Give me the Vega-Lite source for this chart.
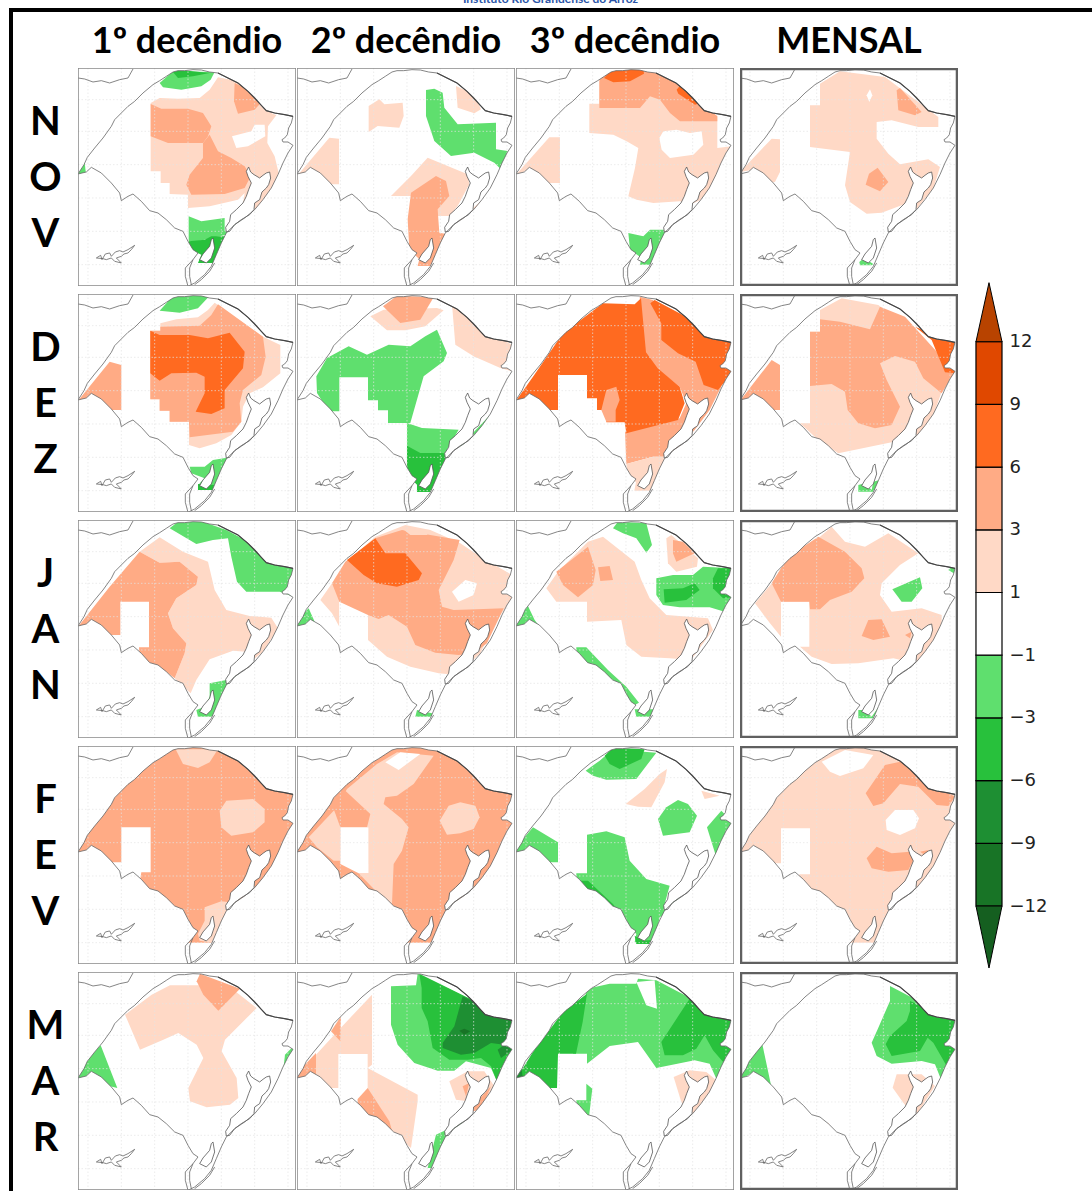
{"$schema":"https://vega.github.io/schema/vega-lite/v6.json","background":"white","padding":{"left":9,"top":0,"right":0,"bottom":0},"config":{"view":{"stroke":null},"axis":{"grid":false}},
"datasets":{
"letras":[{"mes":"NOV","letra":"N","ordem":0},{"mes":"NOV","letra":"O","ordem":1},{"mes":"NOV","letra":"V","ordem":2},{"mes":"DEZ","letra":"D","ordem":0},{"mes":"DEZ","letra":"E","ordem":1},{"mes":"DEZ","letra":"Z","ordem":2},{"mes":"JAN","letra":"J","ordem":0},{"mes":"JAN","letra":"A","ordem":1},{"mes":"JAN","letra":"N","ordem":2},{"mes":"FEV","letra":"F","ordem":0},{"mes":"FEV","letra":"E","ordem":1},{"mes":"FEV","letra":"V","ordem":2},{"mes":"MAR","letra":"M","ordem":0},{"mes":"MAR","letra":"A","ordem":1},{"mes":"MAR","letra":"R","ordem":2}],
"areas":[
{"mes":"NOV","dec":"1º decêndio","classe":"1 a 3","geo":{"type":"Polygon","coordinates":[[[218,105],[245,90],[300,92],[365,90],[395,65],[420,28],[480,40],[560,125],[595,142],[570,175],[568,225],[590,265],[602,315],[585,355],[550,405],[520,440],[490,440],[500,375],[480,395],[395,415],[330,420],[330,380],[275,378],[275,345],[248,345],[248,310],[218,310],[218,105]]]}},
{"mes":"NOV","dec":"1º decêndio","classe":"-1 a 1","geo":{"type":"Polygon","coordinates":[[[462,205],[520,190],[530,170],[560,170],[562,205],[510,235],[475,240],[462,205]]]}},
{"mes":"NOV","dec":"1º decêndio","classe":"3 a 6","geo":{"type":"Polygon","coordinates":[[[218,108],[250,122],[330,122],[375,135],[400,175],[390,205],[375,225],[330,225],[270,225],[218,205],[218,108]]]}},
{"mes":"NOV","dec":"1º decêndio","classe":"3 a 6","geo":{"type":"Polygon","coordinates":[[[375,225],[395,200],[420,250],[460,270],[500,295],[518,325],[500,360],[440,378],[340,380],[325,350],[335,320],[375,270],[375,225]]]}},
{"mes":"NOV","dec":"1º decêndio","classe":"3 a 6","geo":{"type":"Polygon","coordinates":[[[470,45],[500,60],[548,105],[530,125],[480,137],[468,100],[470,45]]]}},
{"mes":"NOV","dec":"1º decêndio","classe":"-3 a -1","geo":{"type":"Polygon","coordinates":[[[245,45],[285,10],[410,12],[398,35],[370,55],[310,65],[255,58],[245,45]]]}},
{"mes":"NOV","dec":"1º decêndio","classe":"-6 a -3","geo":{"type":"Polygon","coordinates":[[[285,12],[300,5],[395,15],[345,25],[300,30],[285,12]]]}},
{"mes":"NOV","dec":"1º decêndio","classe":"-3 a -1","geo":{"type":"Polygon","coordinates":[[[0,318],[0,290],[18,268],[24,318],[0,318]]]}},
{"mes":"NOV","dec":"1º decêndio","classe":"-3 a -1","geo":{"type":"Polygon","coordinates":[[[332,445],[370,460],[440,450],[440,490],[470,470],[520,440],[500,460],[445,500],[400,510],[360,520],[332,520],[332,445]]]}},
{"mes":"NOV","dec":"1º decêndio","classe":"-6 a -3","geo":{"type":"Polygon","coordinates":[[[332,520],[380,515],[400,505],[445,505],[425,545],[415,585],[360,585],[370,560],[345,548],[332,530],[332,520]]]}},

{"mes":"NOV","dec":"2º decêndio","classe":"1 a 3","geo":{"type":"Polygon","coordinates":[[[0,324],[97,209],[126,212],[126,349],[72,349],[42,314],[0,324]]]}},
{"mes":"NOV","dec":"2º decêndio","classe":"1 a 3","geo":{"type":"Polygon","coordinates":[[[215,114],[247,94],[262,109],[317,104],[320,144],[307,179],[242,174],[215,192],[215,114]]]}},
{"mes":"NOV","dec":"2º decêndio","classe":"1 a 3","geo":{"type":"Polygon","coordinates":[[[477,54],[532,79],[552,124],[532,136],[482,119],[477,54]]]}},
{"mes":"NOV","dec":"2º decêndio","classe":"-3 a -1","geo":{"type":"Polygon","coordinates":[[[387,66],[412,62],[437,74],[442,119],[482,169],[597,164],[597,244],[632,249],[617,309],[592,284],[532,254],[462,264],[412,219],[387,144],[387,66]]]}},
{"mes":"NOV","dec":"2º decêndio","classe":"1 a 3","geo":{"type":"Polygon","coordinates":[[[392,269],[512,319],[517,349],[482,414],[457,444],[422,444],[347,384],[282,384],[342,324],[392,269]]]}},
{"mes":"NOV","dec":"2º decêndio","classe":"1 a 3","geo":{"type":"Polygon","coordinates":[[[457,484],[552,399],[567,404],[462,504],[457,484]]]}},
{"mes":"NOV","dec":"2º decêndio","classe":"3 a 6","geo":{"type":"Polygon","coordinates":[[[417,324],[447,339],[457,384],[422,424],[427,494],[452,499],[442,524],[407,594],[362,594],[367,574],[337,544],[332,454],[342,374],[417,324]]]}},

{"mes":"NOV","dec":"3º decêndio","classe":"1 a 3","geo":{"type":"Polygon","coordinates":[[[220,107],[250,107],[250,40],[292,5],[392,5],[472,30],[604,145],[604,240],[647,235],[617,320],[567,390],[522,410],[492,400],[412,405],[362,395],[337,385],[357,300],[367,240],[332,220],[292,200],[220,195],[220,107]]]}},
{"mes":"NOV","dec":"3º decêndio","classe":"-1 a 1","geo":{"type":"Polygon","coordinates":[[[430,210],[442,190],[482,185],[522,195],[557,190],[562,230],[532,260],[462,270],[437,245],[430,210]]]}},
{"mes":"NOV","dec":"3º decêndio","classe":"1 a 3","geo":{"type":"Polygon","coordinates":[[[0,320],[100,208],[132,208],[132,345],[72,345],[37,305],[0,320]]]}},
{"mes":"NOV","dec":"3º decêndio","classe":"3 a 6","geo":{"type":"Polygon","coordinates":[[[250,120],[372,120],[402,85],[432,95],[462,135],[492,160],[604,160],[604,145],[462,25],[382,5],[282,5],[250,35],[250,120]]]}},
{"mes":"NOV","dec":"3º decêndio","classe":"6 a 9","geo":{"type":"Polygon","coordinates":[[[264,30],[292,43],[342,40],[384,17],[382,0],[292,0],[264,30]]]}},
{"mes":"NOV","dec":"3º decêndio","classe":"6 a 9","geo":{"type":"Polygon","coordinates":[[[482,65],[492,53],[552,105],[537,110],[487,77],[482,65]]]}},
{"mes":"NOV","dec":"3º decêndio","classe":"-3 a -1","geo":{"type":"Polygon","coordinates":[[[337,495],[382,505],[402,485],[442,485],[454,500],[467,500],[437,550],[417,590],[372,590],[377,570],[342,545],[337,495]]]}},

{"mes":"NOV","dec":"MENSAL","classe":"1 a 3","geo":{"type":"Polygon","coordinates":[[[210,112],[240,112],[240,47],[300,10],[435,27],[475,57],[595,147],[595,177],[535,177],[455,157],[410,162],[410,212],[445,257],[480,289],[565,274],[600,297],[580,362],[530,422],[485,412],[425,434],[380,437],[330,402],[315,352],[330,252],[210,237],[210,112]]]}},
{"mes":"NOV","dec":"MENSAL","classe":"-1 a 1","geo":{"type":"Polygon","coordinates":[[[390,64],[397,82],[388,102],[380,82],[390,64]]]}},
{"mes":"NOV","dec":"MENSAL","classe":"1 a 3","geo":{"type":"Polygon","coordinates":[[[0,312],[95,212],[120,214],[120,312],[105,342],[60,347],[30,307],[0,312]]]}},
{"mes":"NOV","dec":"MENSAL","classe":"3 a 6","geo":{"type":"Polygon","coordinates":[[[470,67],[480,60],[545,132],[525,142],[475,127],[470,67]]]}},
{"mes":"NOV","dec":"MENSAL","classe":"3 a 6","geo":{"type":"Polygon","coordinates":[[[413,299],[445,342],[420,370],[377,350],[387,317],[413,299]]]}},
{"mes":"NOV","dec":"MENSAL","classe":"-3 a -1","geo":{"type":"Polygon","coordinates":[[[358,582],[372,570],[400,588],[395,592],[360,592],[358,582]]]}},

{"mes":"DEZ","dec":"1º decêndio","classe":"1 a 3","geo":{"type":"Polygon","coordinates":[[[217,110],[247,110],[247,88],[295,76],[360,70],[390,48],[410,26],[555,128],[607,153],[607,238],[555,280],[515,298],[495,338],[490,383],[460,423],[415,448],[365,463],[333,453],[333,383],[275,383],[275,350],[245,350],[245,316],[217,316],[217,110]]]}},
{"mes":"DEZ","dec":"1º decêndio","classe":"3 a 6","geo":{"type":"Polygon","coordinates":[[[247,98],[365,95],[400,63],[420,31],[555,128],[563,188],[550,243],[495,288],[485,328],[490,383],[465,413],[335,430],[333,383],[275,383],[275,350],[245,350],[245,316],[217,316],[217,110],[247,110],[247,98]]]}},
{"mes":"DEZ","dec":"1º decêndio","classe":"6 a 9","geo":{"type":"Polygon","coordinates":[[[217,110],[245,123],[335,123],[390,133],[455,116],[500,173],[495,223],[440,288],[440,343],[400,360],[353,353],[380,298],[380,248],[355,236],[280,238],[245,260],[217,238],[217,110]]]}},
{"mes":"DEZ","dec":"1º decêndio","classe":"-3 a -1","geo":{"type":"Polygon","coordinates":[[[245,50],[285,5],[395,5],[360,43],[305,56],[245,50]]]}},
{"mes":"DEZ","dec":"1º decêndio","classe":"3 a 6","geo":{"type":"Polygon","coordinates":[[[0,320],[95,203],[130,213],[130,348],[95,348],[45,308],[0,320]]]}},
{"mes":"DEZ","dec":"1º decêndio","classe":"-3 a -1","geo":{"type":"Polygon","coordinates":[[[335,518],[380,518],[405,498],[465,488],[435,538],[415,588],[360,588],[365,568],[380,553],[340,538],[335,518]]]}},
{"mes":"DEZ","dec":"1º decêndio","classe":"-6 a -3","geo":{"type":"Polygon","coordinates":[[[360,570],[410,573],[410,588],[360,588],[360,570]]]}},

{"mes":"DEZ","dec":"2º decêndio","classe":"1 a 3","geo":{"type":"Polygon","coordinates":[[[220,67],[260,47],[420,42],[440,49],[385,97],[325,109],[270,109],[220,67]]]}},
{"mes":"DEZ","dec":"2º decêndio","classe":"3 a 6","geo":{"type":"Polygon","coordinates":[[[258,37],[300,5],[410,10],[370,77],[310,87],[258,37]]]}},
{"mes":"DEZ","dec":"2º decêndio","classe":"1 a 3","geo":{"type":"Polygon","coordinates":[[[465,30],[650,157],[645,232],[610,222],[530,187],[475,152],[465,30]]]}},
{"mes":"DEZ","dec":"2º decêndio","classe":"-3 a -1","geo":{"type":"Polygon","coordinates":[[[58,247],[90,192],[155,157],[210,182],[275,152],[340,157],[385,127],[420,107],[450,177],[440,202],[380,247],[340,387],[273,387],[273,349],[243,349],[243,319],[213,319],[213,250],[127,250],[127,352],[95,352],[60,297],[58,247]]]}},
{"mes":"DEZ","dec":"2º decêndio","classe":"-3 a -1","geo":{"type":"Polygon","coordinates":[[[330,387],[375,402],[485,407],[450,467],[470,477],[580,362],[583,372],[460,492],[420,490],[330,475],[330,387]]]}},
{"mes":"DEZ","dec":"2º decêndio","classe":"-6 a -3","geo":{"type":"Polygon","coordinates":[[[330,455],[370,477],[440,477],[450,507],[425,557],[410,594],[360,594],[360,572],[330,542],[330,455]]]}},

{"mes":"DEZ","dec":"3º decêndio","classe":"3 a 6","geo":{"type":"Polygon","coordinates":[[[371,8],[411,18],[616,278],[606,298],[581,348],[536,408],[461,488],[411,488],[331,510],[327,413],[491,373],[511,328],[491,278],[421,223],[386,178],[371,8]]]}},
{"mes":"DEZ","dec":"3º decêndio","classe":"1 a 3","geo":{"type":"Polygon","coordinates":[[[331,510],[411,488],[461,488],[435,530],[410,590],[355,590],[360,565],[335,540],[331,510]]]}},
{"mes":"DEZ","dec":"3º decêndio","classe":"6 a 9","geo":{"type":"Polygon","coordinates":[[[0,320],[51,248],[141,118],[261,28],[356,31],[375,13],[390,175],[425,223],[491,278],[506,328],[486,378],[331,418],[326,385],[271,385],[271,348],[243,348],[243,313],[213,313],[213,243],[126,243],[126,348],[91,348],[41,308],[0,320]]]}},
{"mes":"DEZ","dec":"3º decêndio","classe":"3 a 6","geo":{"type":"Polygon","coordinates":[[[256,348],[271,288],[301,278],[311,318],[299,348],[299,383],[271,383],[256,348]]]}},
{"mes":"DEZ","dec":"3º decêndio","classe":"6 a 9","geo":{"type":"Polygon","coordinates":[[[403,28],[416,18],[651,143],[651,233],[606,288],[563,273],[539,203],[486,178],[436,138],[436,88],[403,28]]]}},

{"mes":"DEZ","dec":"MENSAL","classe":"1 a 3","geo":{"type":"Polygon","coordinates":[[[180,388],[210,388],[210,113],[240,113],[240,48],[305,13],[415,33],[575,168],[605,293],[575,378],[530,428],[455,445],[295,478],[235,438],[180,388]]]}},
{"mes":"DEZ","dec":"MENSAL","classe":"3 a 6","geo":{"type":"Polygon","coordinates":[[[210,113],[240,113],[240,76],[300,83],[390,106],[420,38],[495,68],[645,233],[605,298],[550,253],[525,203],[465,186],[420,208],[440,258],[480,338],[455,393],[405,403],[355,388],[323,348],[315,293],[275,270],[210,276],[210,113]]]}},
{"mes":"DEZ","dec":"MENSAL","classe":"6 a 9","geo":{"type":"Polygon","coordinates":[[[525,98],[650,148],[650,238],[615,235],[575,138],[525,98]]]}},
{"mes":"DEZ","dec":"MENSAL","classe":"3 a 6","geo":{"type":"Polygon","coordinates":[[[0,320],[95,198],[120,213],[120,348],[90,348],[40,308],[0,320]]]}},
{"mes":"DEZ","dec":"MENSAL","classe":"-3 a -1","geo":{"type":"Polygon","coordinates":[[[355,573],[375,568],[395,588],[400,563],[418,558],[405,593],[355,593],[355,573]]]}},

{"mes":"JAN","dec":"1º decêndio","classe":"1 a 3","geo":{"type":"Polygon","coordinates":[[[185,95],[245,52],[315,95],[390,125],[410,210],[445,270],[515,288],[580,293],[600,325],[555,395],[525,420],[505,395],[465,392],[395,418],[355,480],[338,520],[290,475],[320,400],[325,370],[285,325],[270,280],[295,235],[355,195],[360,170],[305,125],[245,128],[185,95]]]}},
{"mes":"JAN","dec":"1º decêndio","classe":"-3 a -1","geo":{"type":"Polygon","coordinates":[[[275,25],[300,5],[375,5],[445,30],[650,140],[650,232],[605,215],[505,215],[477,185],[460,110],[450,55],[405,60],[355,72],[275,25]]]}},
{"mes":"JAN","dec":"1º decêndio","classe":"3 a 6","geo":{"type":"Polygon","coordinates":[[[0,320],[95,200],[185,95],[245,128],[305,125],[360,170],[355,195],[295,235],[270,280],[285,325],[325,370],[320,400],[290,475],[245,440],[185,415],[183,382],[213,382],[213,245],[127,245],[127,345],[95,345],[45,310],[0,320]]]}},
{"mes":"JAN","dec":"1º decêndio","classe":"-3 a -1","geo":{"type":"Polygon","coordinates":[[[395,490],[445,480],[515,448],[470,488],[440,505],[420,550],[410,590],[360,590],[355,570],[380,560],[395,530],[395,490]]]}},

{"mes":"JAN","dec":"2º decêndio","classe":"1 a 3","geo":{"type":"Polygon","coordinates":[[[70,240],[105,190],[155,120],[235,50],[325,15],[400,30],[490,70],[550,110],[645,165],[645,235],[600,300],[550,400],[480,465],[425,460],[340,440],[270,410],[213,360],[213,290],[127,245],[127,320],[105,280],[70,240]]]}},
{"mes":"JAN","dec":"2º decêndio","classe":"-1 a 1","geo":{"type":"Polygon","coordinates":[[[127,245],[213,245],[213,372],[127,372],[127,245]]]}},
{"mes":"JAN","dec":"2º decêndio","classe":"3 a 6","geo":{"type":"Polygon","coordinates":[[[105,190],[145,125],[235,55],[315,30],[400,45],[488,60],[470,120],[425,210],[435,260],[470,270],[540,268],[620,265],[570,370],[530,400],[485,405],[415,398],[355,375],[330,320],[275,285],[245,297],[213,285],[127,245],[105,190]]]}},
{"mes":"JAN","dec":"2º decêndio","classe":"1 a 3","geo":{"type":"Polygon","coordinates":[[[315,25],[400,30],[390,45],[340,45],[315,25]]]}},
{"mes":"JAN","dec":"2º decêndio","classe":"-1 a 1","geo":{"type":"Polygon","coordinates":[[[465,215],[505,180],[540,190],[530,225],[485,245],[465,215]]]}},
{"mes":"JAN","dec":"2º decêndio","classe":"6 a 9","geo":{"type":"Polygon","coordinates":[[[150,120],[235,55],[265,100],[325,100],[375,160],[365,180],[300,200],[240,190],[200,165],[150,120]]]}},
{"mes":"JAN","dec":"2º decêndio","classe":"-3 a -1","geo":{"type":"Polygon","coordinates":[[[0,322],[0,300],[35,265],[55,310],[30,322],[0,322]]]}},
{"mes":"JAN","dec":"2º decêndio","classe":"-3 a -1","geo":{"type":"Polygon","coordinates":[[[360,570],[405,580],[410,590],[355,590],[360,570]]]}},

{"mes":"JAN","dec":"3º decêndio","classe":"1 a 3","geo":{"type":"Polygon","coordinates":[[[91,205],[126,155],[216,65],[261,50],[356,125],[376,180],[401,235],[451,285],[576,295],[591,330],[525,420],[461,415],[376,410],[331,375],[316,300],[213,305],[213,245],[121,245],[91,205]]]}},
{"mes":"JAN","dec":"3º decêndio","classe":"3 a 6","geo":{"type":"Polygon","coordinates":[[[121,155],[216,80],[239,150],[231,195],[186,232],[141,195],[121,155]]]}},
{"mes":"JAN","dec":"3º decêndio","classe":"3 a 6","geo":{"type":"Polygon","coordinates":[[[246,142],[281,138],[291,180],[253,183],[246,142]]]}},
{"mes":"JAN","dec":"3º decêndio","classe":"1 a 3","geo":{"type":"Polygon","coordinates":[[[451,55],[466,45],[546,115],[543,140],[481,155],[456,130],[451,55]]]}},
{"mes":"JAN","dec":"3º decêndio","classe":"3 a 6","geo":{"type":"Polygon","coordinates":[[[471,60],[501,65],[536,100],[481,125],[471,100],[471,60]]]}},
{"mes":"JAN","dec":"3º decêndio","classe":"-3 a -1","geo":{"type":"Polygon","coordinates":[[[291,25],[306,5],[391,10],[408,75],[391,98],[361,55],[321,40],[291,25]]]}},
{"mes":"JAN","dec":"3º decêndio","classe":"-3 a -1","geo":{"type":"Polygon","coordinates":[[[421,175],[471,165],[531,165],[561,140],[651,145],[651,225],[626,275],[581,262],[491,262],[441,255],[421,225],[421,175]]]}},
{"mes":"JAN","dec":"3º decêndio","classe":"-6 a -3","geo":{"type":"Polygon","coordinates":[[[443,208],[501,205],[536,190],[551,210],[511,240],[446,248],[443,208]]]}},
{"mes":"JAN","dec":"3º decêndio","classe":"-6 a -3","geo":{"type":"Polygon","coordinates":[[[591,175],[606,145],[651,145],[651,232],[621,235],[591,205],[591,175]]]}},
{"mes":"JAN","dec":"3º decêndio","classe":"-3 a -1","geo":{"type":"Polygon","coordinates":[[[0,322],[0,300],[36,258],[56,300],[95,352],[56,322],[0,322]]]}},
{"mes":"JAN","dec":"3º decêndio","classe":"-3 a -1","geo":{"type":"Polygon","coordinates":[[[181,382],[211,382],[276,450],[331,500],[369,548],[356,555],[321,530],[291,480],[231,440],[181,410],[181,382]]]}},
{"mes":"JAN","dec":"3º decêndio","classe":"-3 a -1","geo":{"type":"Polygon","coordinates":[[[356,568],[416,568],[406,590],[361,590],[356,568]]]}},

{"mes":"JAN","dec":"MENSAL","classe":"1 a 3","geo":{"type":"Polygon","coordinates":[[[45,250],[95,190],[145,110],[240,50],[275,20],[315,65],[375,80],[445,40],[535,100],[480,135],[425,190],[420,225],[455,275],[545,265],[605,285],[605,330],[555,410],[525,430],[460,415],[355,430],[275,432],[215,410],[180,380],[208,380],[208,245],[123,245],[123,350],[90,310],[45,250]]]}},
{"mes":"JAN","dec":"MENSAL","classe":"3 a 6","geo":{"type":"Polygon","coordinates":[[[95,190],[145,110],[235,50],[315,95],[365,145],[373,175],[335,215],[270,240],[240,268],[210,268],[208,245],[123,245],[95,190]]]}},
{"mes":"JAN","dec":"MENSAL","classe":"3 a 6","geo":{"type":"Polygon","coordinates":[[[385,300],[425,298],[450,350],[400,360],[365,348],[385,300]]]}},
{"mes":"JAN","dec":"MENSAL","classe":"3 a 6","geo":{"type":"Polygon","coordinates":[[[495,345],[515,335],[510,355],[495,345]]]}},
{"mes":"JAN","dec":"MENSAL","classe":"-3 a -1","geo":{"type":"Polygon","coordinates":[[[457,208],[540,172],[547,205],[515,245],[485,245],[457,208]]]}},
{"mes":"JAN","dec":"MENSAL","classe":"-3 a -1","geo":{"type":"Polygon","coordinates":[[[625,150],[640,135],[650,150],[645,162],[625,150]]]}},
{"mes":"JAN","dec":"MENSAL","classe":"-3 a -1","geo":{"type":"Polygon","coordinates":[[[355,570],[375,570],[395,590],[420,555],[410,595],[355,595],[355,570]]]}},

{"mes":"FEV","dec":"1º decêndio","classe":"3 a 6","geo":{"type":"Polygon","coordinates":[[[0,0],[654,0],[654,590],[0,590],[0,0]]]}},
{"mes":"FEV","dec":"1º decêndio","classe":"-1 a 1","geo":{"type":"Polygon","coordinates":[[[130,244],[218,244],[218,379],[190,379],[185,410],[100,410],[100,349],[130,349],[130,244]]]}},
{"mes":"FEV","dec":"1º decêndio","classe":"1 a 3","geo":{"type":"Polygon","coordinates":[[[293,10],[420,10],[395,49],[360,66],[315,54],[293,10]]]}},
{"mes":"FEV","dec":"1º decêndio","classe":"1 a 3","geo":{"type":"Polygon","coordinates":[[[425,194],[445,164],[525,159],[560,189],[560,229],[525,259],[460,269],[430,244],[425,194]]]}},
{"mes":"FEV","dec":"1º decêndio","classe":"1 a 3","geo":{"type":"Polygon","coordinates":[[[380,484],[430,466],[470,470],[425,594],[365,584],[360,564],[380,524],[380,484]]]}},

{"mes":"FEV","dec":"2º decêndio","classe":"3 a 6","geo":{"type":"Polygon","coordinates":[[[0,0],[654,0],[654,590],[0,590],[0,0]]]}},
{"mes":"FEV","dec":"2º decêndio","classe":"1 a 3","geo":{"type":"Polygon","coordinates":[[[35,274],[115,189],[150,129],[240,54],[300,19],[410,29],[350,114],[300,149],[265,154],[260,174],[315,219],[335,244],[315,314],[290,354],[285,474],[240,439],[185,382],[215,382],[215,244],[130,244],[130,344],[110,344],[60,304],[35,274]]]}},
{"mes":"FEV","dec":"2º decêndio","classe":"3 a 6","geo":{"type":"Polygon","coordinates":[[[110,189],[145,134],[220,204],[210,244],[130,244],[110,189]]]}},
{"mes":"FEV","dec":"2º decêndio","classe":"-1 a 1","geo":{"type":"Polygon","coordinates":[[[130,244],[215,244],[215,382],[185,382],[130,354],[130,244]]]}},
{"mes":"FEV","dec":"2º decêndio","classe":"-1 a 1","geo":{"type":"Polygon","coordinates":[[[265,49],[310,19],[370,24],[305,72],[265,49]]]}},
{"mes":"FEV","dec":"2º decêndio","classe":"1 a 3","geo":{"type":"Polygon","coordinates":[[[428,224],[455,179],[490,169],[535,179],[548,214],[530,249],[490,262],[450,266],[428,224]]]}},

{"mes":"FEV","dec":"3º decêndio","classe":"-3 a -1","geo":{"type":"Polygon","coordinates":[[[209,74],[251,44],[291,10],[421,20],[361,99],[271,101],[231,89],[209,74]]]}},
{"mes":"FEV","dec":"3º decêndio","classe":"-6 a -3","geo":{"type":"Polygon","coordinates":[[[266,29],[291,5],[386,10],[376,39],[311,69],[281,54],[266,29]]]}},
{"mes":"FEV","dec":"3º decêndio","classe":"1 a 3","geo":{"type":"Polygon","coordinates":[[[329,174],[386,129],[431,84],[453,69],[446,109],[406,184],[366,182],[329,174]]]}},
{"mes":"FEV","dec":"3º decêndio","classe":"1 a 3","geo":{"type":"Polygon","coordinates":[[[556,134],[611,149],[566,159],[556,134]]]}},
{"mes":"FEV","dec":"3º decêndio","classe":"-3 a -1","geo":{"type":"Polygon","coordinates":[[[426,219],[451,184],[486,162],[516,174],[543,209],[521,259],[441,269],[426,219]]]}},
{"mes":"FEV","dec":"3º decêndio","classe":"-3 a -1","geo":{"type":"Polygon","coordinates":[[[573,244],[616,194],[651,229],[601,334],[573,244]]]}},
{"mes":"FEV","dec":"3º decêndio","classe":"-3 a -1","geo":{"type":"Polygon","coordinates":[[[0,324],[0,304],[51,244],[126,289],[126,349],[91,349],[41,314],[0,324]]]}},
{"mes":"FEV","dec":"3º decêndio","classe":"-3 a -1","geo":{"type":"Polygon","coordinates":[[[213,266],[271,256],[326,274],[341,344],[391,399],[461,419],[446,474],[521,444],[461,494],[431,514],[416,589],[356,589],[361,564],[331,534],[291,484],[231,444],[181,414],[181,382],[213,382],[213,266]]]}},
{"mes":"FEV","dec":"3º decêndio","classe":"-6 a -3","geo":{"type":"Polygon","coordinates":[[[181,404],[216,404],[291,474],[336,534],[331,549],[291,514],[231,449],[181,404]]]}},
{"mes":"FEV","dec":"3º decêndio","classe":"-6 a -3","geo":{"type":"Polygon","coordinates":[[[356,569],[381,584],[406,582],[401,594],[361,594],[356,569]]]}},

{"mes":"FEV","dec":"MENSAL","classe":"1 a 3","geo":{"type":"Polygon","coordinates":[[[0,0],[654,0],[654,590],[0,590],[0,0]]]}},
{"mes":"FEV","dec":"MENSAL","classe":"-1 a 1","geo":{"type":"Polygon","coordinates":[[[245,47],[315,12],[400,27],[370,67],[300,90],[270,77],[245,47]]]}},
{"mes":"FEV","dec":"MENSAL","classe":"-1 a 1","geo":{"type":"Polygon","coordinates":[[[123,247],[210,247],[210,385],[180,385],[145,402],[100,402],[100,352],[123,352],[123,247]]]}},
{"mes":"FEV","dec":"MENSAL","classe":"-1 a 1","geo":{"type":"Polygon","coordinates":[[[437,222],[465,192],[520,192],[537,217],[525,247],[480,267],[440,252],[437,222]]]}},
{"mes":"FEV","dec":"MENSAL","classe":"3 a 6","geo":{"type":"Polygon","coordinates":[[[377,142],[435,57],[505,42],[565,112],[645,152],[625,180],[590,177],[535,122],[480,114],[430,172],[400,180],[377,142]]]}},
{"mes":"FEV","dec":"MENSAL","classe":"3 a 6","geo":{"type":"Polygon","coordinates":[[[380,337],[410,302],[455,322],[510,317],[520,342],[505,372],[445,377],[395,367],[380,337]]]}},
{"mes":"FEV","dec":"MENSAL","classe":"3 a 6","geo":{"type":"Polygon","coordinates":[[[540,317],[565,312],[555,327],[540,317]]]}},

{"mes":"MAR","dec":"1º decêndio","classe":"1 a 3","geo":{"type":"Polygon","coordinates":[[[141,128],[221,68],[276,40],[366,40],[466,53],[536,108],[441,203],[431,238],[476,318],[481,378],[456,398],[386,406],[336,388],[331,348],[376,258],[356,218],[301,183],[256,203],[186,233],[141,128]]]}},
{"mes":"MAR","dec":"1º decêndio","classe":"3 a 6","geo":{"type":"Polygon","coordinates":[[[356,28],[366,5],[486,50],[421,116],[376,68],[356,28]]]}},
{"mes":"MAR","dec":"1º decêndio","classe":"-3 a -1","geo":{"type":"Polygon","coordinates":[[[0,323],[0,293],[68,220],[118,348],[96,343],[46,303],[0,323]]]}},
{"mes":"MAR","dec":"1º decêndio","classe":"-3 a -1","geo":{"type":"Polygon","coordinates":[[[616,293],[621,248],[646,223],[650,238],[616,293]]]}},

{"mes":"MAR","dec":"2º decêndio","classe":"1 a 3","geo":{"type":"Polygon","coordinates":[[[2,308],[112,188],[225,68],[225,278],[212,288],[362,368],[362,388],[342,528],[282,478],[182,408],[182,381],[212,381],[212,246],[124,246],[124,348],[87,348],[57,318],[2,308]]]}},
{"mes":"MAR","dec":"2º decêndio","classe":"3 a 6","geo":{"type":"Polygon","coordinates":[[[0,318],[0,303],[57,243],[57,308],[22,323],[0,318]]]}},
{"mes":"MAR","dec":"2º decêndio","classe":"3 a 6","geo":{"type":"Polygon","coordinates":[[[102,178],[132,133],[130,208],[102,178]]]}},
{"mes":"MAR","dec":"2º decêndio","classe":"3 a 6","geo":{"type":"Polygon","coordinates":[[[182,381],[212,348],[277,448],[287,483],[222,438],[182,408],[182,381]]]}},
{"mes":"MAR","dec":"2º decêndio","classe":"-3 a -1","geo":{"type":"Polygon","coordinates":[[[282,43],[357,40],[362,5],[652,146],[652,248],[602,333],[582,288],[507,268],[472,296],[422,296],[352,273],[302,218],[282,158],[282,43]]]}},
{"mes":"MAR","dec":"2º decêndio","classe":"-6 a -3","geo":{"type":"Polygon","coordinates":[[[374,48],[367,5],[652,146],[652,248],[602,333],[582,283],[552,258],[512,263],[457,263],[407,228],[392,148],[374,108],[374,48]]]}},
{"mes":"MAR","dec":"2º decêndio","classe":"-9 a -6","geo":{"type":"Polygon","coordinates":[[[497,73],[652,146],[652,213],[622,218],[582,213],[532,243],[492,248],[437,228],[437,213],[472,163],[497,73]]]}},
{"mes":"MAR","dec":"2º decêndio","classe":"-12 a -9","geo":{"type":"Polygon","coordinates":[[[487,176],[502,170],[520,178],[502,188],[487,176]]]}},
{"mes":"MAR","dec":"2º decêndio","classe":"-9 a -6","geo":{"type":"Polygon","coordinates":[[[602,233],[622,218],[647,233],[612,258],[602,233]]]}},
{"mes":"MAR","dec":"2º decêndio","classe":"1 a 3","geo":{"type":"Polygon","coordinates":[[[457,328],[512,298],[562,298],[592,343],[552,408],[527,408],[512,388],[477,383],[457,328]]]}},
{"mes":"MAR","dec":"2º decêndio","classe":"3 a 6","geo":{"type":"Polygon","coordinates":[[[497,343],[517,333],[507,373],[497,343]]]}},
{"mes":"MAR","dec":"2º decêndio","classe":"3 a 6","geo":{"type":"Polygon","coordinates":[[[532,398],[582,343],[552,413],[527,418],[532,398]]]}},
{"mes":"MAR","dec":"2º decêndio","classe":"-3 a -1","geo":{"type":"Polygon","coordinates":[[[417,488],[502,448],[462,488],[442,518],[412,588],[392,588],[407,528],[417,488]]]}},

{"mes":"MAR","dec":"3º decêndio","classe":"-3 a -1","geo":{"type":"Polygon","coordinates":[[[213,50],[281,35],[361,35],[366,20],[421,25],[651,145],[651,225],[601,320],[581,275],[536,265],[421,288],[391,245],[366,210],[281,222],[213,275],[213,245],[171,245],[213,50]]]}},
{"mes":"MAR","dec":"3º decêndio","classe":"-1 a 1","geo":{"type":"Polygon","coordinates":[[[361,30],[416,25],[423,110],[391,100],[361,30]]]}},
{"mes":"MAR","dec":"3º decêndio","classe":"-6 a -3","geo":{"type":"Polygon","coordinates":[[[0,322],[51,240],[141,120],[213,65],[200,150],[180,245],[126,245],[123,348],[91,348],[41,310],[0,322]]]}},
{"mes":"MAR","dec":"3º decêndio","classe":"-9 a -6","geo":{"type":"Polygon","coordinates":[[[0,322],[0,300],[16,285],[21,320],[0,322]]]}},
{"mes":"MAR","dec":"3º decêndio","classe":"-6 a -3","geo":{"type":"Polygon","coordinates":[[[436,210],[521,80],[651,145],[651,225],[626,275],[591,235],[566,190],[541,230],[501,250],[446,250],[436,210]]]}},
{"mes":"MAR","dec":"3º decêndio","classe":"-3 a -1","geo":{"type":"Polygon","coordinates":[[[181,385],[211,385],[211,335],[229,350],[219,435],[181,415],[181,385]]]}},
{"mes":"MAR","dec":"3º decêndio","classe":"1 a 3","geo":{"type":"Polygon","coordinates":[[[473,315],[521,295],[571,300],[601,325],[541,440],[521,420],[496,390],[473,315]]]}},

{"mes":"MAR","dec":"MENSAL","classe":"-3 a -1","geo":{"type":"Polygon","coordinates":[[[450,42],[650,147],[650,222],[605,327],[585,277],[545,267],[455,275],[410,252],[395,212],[415,167],[450,87],[450,42]]]}},
{"mes":"MAR","dec":"MENSAL","classe":"-6 a -3","geo":{"type":"Polygon","coordinates":[[[510,87],[650,147],[650,222],[620,282],[580,212],[563,197],[540,237],[455,252],[437,217],[450,192],[500,147],[510,117],[510,87]]]}},
{"mes":"MAR","dec":"MENSAL","classe":"-3 a -1","geo":{"type":"Polygon","coordinates":[[[0,322],[0,297],[67,217],[95,349],[55,327],[30,307],[0,322]]]}},
{"mes":"MAR","dec":"MENSAL","classe":"1 a 3","geo":{"type":"Polygon","coordinates":[[[458,347],[470,307],[545,307],[585,342],[525,437],[505,410],[490,392],[458,347]]]}},
{"mes":"MAR","dec":"MENSAL","classe":"1 a 3","geo":{"type":"Polygon","coordinates":[[[245,457],[265,452],[275,472],[255,477],[245,457]]]}}
],
"mascara":[{"nome":"fora do estado","geo":{"type":"Polygon","coordinates":[[[0,0],[0,654],[654,654],[654,0],[0,0]],[[0,318],[18,290],[28,268],[50,240],[75,210],[100,175],[110,155],[130,135],[150,115],[170,100],[195,75],[225,50],[245,38],[265,25],[285,12],[300,8],[320,8],[345,5],[370,6],[395,12],[420,15],[450,30],[480,45],[510,70],[530,90],[550,112],[565,128],[590,135],[620,140],[645,145],[640,165],[632,180],[628,200],[620,210],[612,215],[615,222],[630,222],[645,232],[630,255],[615,285],[600,320],[580,360],[555,395],[530,425],[500,450],[470,470],[445,495],[430,525],[415,560],[400,595],[380,620],[350,645],[330,655],[322,625],[322,600],[345,575],[360,555],[345,545],[330,520],[315,490],[290,480],[265,455],[240,435],[215,428],[190,400],[165,378],[150,385],[130,398],[125,375],[100,345],[70,315],[40,298],[25,312],[0,318]]]}}],
"grade":[{"nome":"grade","geo":{"type":"MultiLineString","coordinates":[[[30,0],[30,654]],[[130,0],[130,654]],[[230,0],[230,654]],[[330,0],[330,654]],[[430,0],[430,654]],[[530,0],[530,654]],[[630,0],[630,654]],[[0,95],[654,95]],[[0,190],[654,190]],[[0,290],[654,290]],[[0,390],[654,390]],[[0,490],[654,490]],[[0,590],[654,590]]]}}],
"lagoas":[{"nome":"Lagoa dos Patos","geo":{"type":"Polygon","coordinates":[[[512,297],[518,312],[528,320],[545,330],[555,322],[565,315],[575,312],[578,330],[572,350],[565,360],[552,372],[545,395],[530,405],[528,425],[515,440],[490,455],[470,470],[455,490],[445,492],[443,478],[455,460],[458,440],[475,425],[495,405],[505,385],[512,365],[520,345],[510,325],[505,310],[512,297]]]}},{"nome":"Lagoa Mirim","geo":{"type":"Polygon","coordinates":[[[405,510],[410,540],[400,570],[385,585],[365,575],[375,558],[395,535],[400,515],[405,510]]]}}],
"linhas":[{"nome":"estado","geo":{"type":"LineString","coordinates":[[0,318],[18,290],[28,268],[50,240],[75,210],[100,175],[110,155],[130,135],[150,115],[170,100],[195,75],[225,50],[245,38],[265,25],[285,12],[300,8],[320,8],[345,5],[370,6],[395,12],[420,15],[450,30],[480,45],[510,70],[530,90],[550,112],[565,128],[590,135],[620,140],[645,145],[640,165],[632,180],[628,200],[620,210],[612,215],[615,222],[630,222],[645,232],[630,255],[615,285],[600,320],[580,360],[555,395],[530,425],[500,450],[470,470],[445,495],[430,525],[415,560],[400,595],[380,620],[350,645],[330,655],[322,625],[322,600],[345,575],[360,555],[345,545],[330,520],[315,490],[290,480],[265,455],[240,435],[215,428],[190,400],[165,378],[150,385],[130,398],[125,375],[100,345],[70,315],[40,298],[25,312],[0,318]]}},{"nome":"rio e fronteira","geo":{"type":"MultiLineString","coordinates":[[[0,30],[20,33],[45,42],[70,38],[95,45],[125,35],[150,30],[165,3]],[[345,575],[335,600],[335,625],[340,650]],[[410,585],[395,610],[370,635],[350,650]],[[55,570],[68,562],[72,575],[82,558],[95,555],[100,565],[112,552],[125,548],[135,552],[150,545],[170,532],[160,545],[150,555],[138,558],[130,565],[115,570],[130,585],[110,580],[100,570],[85,575],[75,572],[55,570]]]}}],
"borda":[{"nome":"nordeste","geo":{"type":"LineString","coordinates":[[420,15],[450,30],[480,45],[510,70],[530,90],[550,112],[565,128],[590,135],[620,140],[645,145]]}}],
"moldura":[{"nome":"painel","geo":{"type":"LineString","coordinates":[[0,0],[654,0],[654,654],[0,654],[0,0]]}}],
"barra":[{"classe":"-12 a -9","de":0,"ate":1},{"classe":"-9 a -6","de":1,"ate":2},{"classe":"-6 a -3","de":2,"ate":3},{"classe":"-3 a -1","de":3,"ate":4},{"classe":"-1 a 1","de":4,"ate":5},{"classe":"1 a 3","de":5,"ate":6},{"classe":"3 a 6","de":6,"ate":7},{"classe":"6 a 9","de":7,"ate":8},{"classe":"9 a 12","de":8,"ate":9}],
"pontas":[{"classe":"<-12","de":0,"forma":"baixo"},{"classe":">12","de":9,"forma":"cima"}]
},
"vconcat":[
{"width":1083,"height":8,"data":{"values":[{"t":"Instituto Rio Grandense do Arroz"}]},"mark":{"type":"text","clip":true,"font":"Lato","fontWeight":"bold","fontSize":12,"color":"#2a55a8","baseline":"alphabetic"},"encoding":{"text":{"field":"t"},"x":{"datum":0.5,"type":"quantitative","scale":{"domain":[0,1]},"axis":null},"y":{"datum":5,"type":"quantitative","scale":{"domain":[0,8]},"axis":null}}},
{"width":1083,"height":4,"data":{"values":[{"a":1}]},"mark":{"type":"rect","color":"black"},"encoding":{"x":{"datum":0,"type":"quantitative","scale":{"domain":[0,1]},"axis":null},"x2":{"datum":1},"y":{"datum":0,"type":"quantitative","scale":{"domain":[0,1]},"axis":null},"y2":{"datum":1}}},
{"spacing":6,"hconcat":[
{"width":4,"height":1123,"data":{"values":[{"a":1}]},"mark":{"type":"rect","color":"black"},"encoding":{"x":{"datum":0,"type":"quantitative","scale":{"domain":[0,1]},"axis":null},"x2":{"datum":1},"y":{"datum":0,"type":"quantitative","scale":{"domain":[0,1123]},"axis":null},"y2":{"datum":1179}}},
{"data":{"name":"letras"},"spacing":{"row":8},"facet":{"row":{"field":"mes","sort":["NOV","DEZ","JAN","FEV","MAR"],"header":null}},"spec":{"width":53,"height":218,"mark":{"type":"text","font":"Lato","fontWeight":"bold","fontSize":40,"color":"black","align":"center","baseline":"middle"},"encoding":{"text":{"field":"letra"},"y":{"field":"ordem","type":"quantitative","axis":null,"scale":{"domain":[-0.982,2.911],"nice":false,"zero":false,"reverse":true}}}}},
{"data":{"name":"areas"},"transform":[{"filter":"datum.dec!=='MENSAL'"}],"spacing":{"row":8,"column":1},
"facet":{"row":{"field":"mes","sort":["NOV","DEZ","JAN","FEV","MAR"],"header":null},"column":{"field":"dec","sort":["1º decêndio","2º decêndio","3º decêndio"],"header":{"title":" ","titleFontSize":1,"titlePadding":0,"labelFont":"Lato","labelFontWeight":"bold","labelFontSize":36,"labelColor":"black","labelPadding":7}}},
"spec":{"width":218,"height":218,"projection":{"type":"identity","scale":0.3333,"translate":[0,0]},"layer":[
{"mark":{"type":"geoshape","stroke":null},"encoding":{"shape":{"field":"geo","type":"geojson"},"color":{"field":"classe","type":"nominal","legend":null,"scale":{"domain":["<-12","-12 a -9","-9 a -6","-6 a -3","-3 a -1","-1 a 1","1 a 3","3 a 6","6 a 9","9 a 12",">12"],"range":["#155f20","#187426","#1e8f33","#28c13c","#5fdf6e","#ffffff","#ffd9c6","#ffab85","#ff6a20","#e04800","#b84300"]}}}},
{"data":{"name":"mascara"},"mark":{"type":"geoshape","fill":"white","stroke":null},"encoding":{"shape":{"field":"geo","type":"geojson"}}},
{"data":{"name":"grade"},"mark":{"type":"geoshape","filled":false,"stroke":"#e4e4e4","strokeWidth":0.7,"strokeDash":[1.5,2]},"encoding":{"shape":{"field":"geo","type":"geojson"}}},
{"data":{"name":"lagoas"},"mark":{"type":"geoshape","fill":"white","stroke":"#555555","strokeWidth":0.8},"encoding":{"shape":{"field":"geo","type":"geojson"}}},
{"data":{"name":"linhas"},"mark":{"type":"geoshape","filled":false,"stroke":"#666666","strokeWidth":0.8},"encoding":{"shape":{"field":"geo","type":"geojson"}}},
{"data":{"name":"borda"},"mark":{"type":"geoshape","filled":false,"stroke":"#444444","strokeWidth":1.2},"encoding":{"shape":{"field":"geo","type":"geojson"}}},
{"data":{"name":"moldura"},"mark":{"type":"geoshape","filled":false,"stroke":"#888888","strokeWidth":1.5},"encoding":{"shape":{"field":"geo","type":"geojson"}}}
]}},
{"data":{"name":"areas"},"transform":[{"filter":"datum.dec==='MENSAL'"}],"spacing":{"row":8,"column":1},
"facet":{"row":{"field":"mes","sort":["NOV","DEZ","JAN","FEV","MAR"],"header":null},"column":{"field":"dec","header":{"title":" ","titleFontSize":1,"titlePadding":0,"labelFont":"Lato","labelFontWeight":"bold","labelFontSize":36,"labelColor":"black","labelPadding":7}}},
"spec":{"width":218,"height":218,"projection":{"type":"identity","scale":0.3333,"translate":[0,0]},"layer":[
{"mark":{"type":"geoshape","stroke":null},"encoding":{"shape":{"field":"geo","type":"geojson"},"color":{"field":"classe","type":"nominal","legend":null,"scale":{"domain":["<-12","-12 a -9","-9 a -6","-6 a -3","-3 a -1","-1 a 1","1 a 3","3 a 6","6 a 9","9 a 12",">12"],"range":["#155f20","#187426","#1e8f33","#28c13c","#5fdf6e","#ffffff","#ffd9c6","#ffab85","#ff6a20","#e04800","#b84300"]}}}},
{"data":{"name":"mascara"},"mark":{"type":"geoshape","fill":"white","stroke":null},"encoding":{"shape":{"field":"geo","type":"geojson"}}},
{"data":{"name":"grade"},"mark":{"type":"geoshape","filled":false,"stroke":"#e4e4e4","strokeWidth":0.7,"strokeDash":[1.5,2]},"encoding":{"shape":{"field":"geo","type":"geojson"}}},
{"data":{"name":"lagoas"},"mark":{"type":"geoshape","fill":"white","stroke":"#555555","strokeWidth":0.8},"encoding":{"shape":{"field":"geo","type":"geojson"}}},
{"data":{"name":"linhas"},"mark":{"type":"geoshape","filled":false,"stroke":"#666666","strokeWidth":0.8},"encoding":{"shape":{"field":"geo","type":"geojson"}}},
{"data":{"name":"borda"},"mark":{"type":"geoshape","filled":false,"stroke":"#444444","strokeWidth":1.2},"encoding":{"shape":{"field":"geo","type":"geojson"}}},
{"data":{"name":"moldura"},"mark":{"type":"geoshape","filled":false,"stroke":"#606060","strokeWidth":4.5},"encoding":{"shape":{"field":"geo","type":"geojson"}}}
]}},
{"width":38,"height":1123,"layer":[
{"data":{"name":"barra"},"mark":{"type":"rect","stroke":"black","strokeWidth":1.2},"encoding":{"x":{"datum":0,"type":"quantitative","scale":{"domain":[-0.46,1],"nice":false,"zero":false},"axis":null},"x2":{"datum":1},"y":{"field":"de","type":"quantitative","scale":{"domain":[-4.545,13.365],"nice":false,"zero":false},"axis":{"orient":"right","title":null,"values":[0,1,2,3,4,5,6,7,8,9],"domain":false,"ticks":false,"grid":false,"labelFont":"DejaVu Sans","labelFontSize":18,"labelColor":"#222222","labelPadding":7,"labelExpr":"['−12','−9','−6','−3','−1','1','3','6','9','12'][datum.value]"}},"y2":{"field":"ate"},"color":{"field":"classe","type":"nominal","legend":null,"scale":{"domain":["<-12","-12 a -9","-9 a -6","-6 a -3","-3 a -1","-1 a 1","1 a 3","3 a 6","6 a 9","9 a 12",">12"],"range":["#155f20","#187426","#1e8f33","#28c13c","#5fdf6e","#ffffff","#ffd9c6","#ffab85","#ff6a20","#e04800","#b84300"]}}}},
{"data":{"name":"pontas"},"transform":[{"filter":"datum.forma==='cima'"}],"mark":{"type":"point","filled":true,"opacity":1,"stroke":"black","strokeWidth":1,"size":676,"shape":"M-1,0L0,-4.54L1,0Z"},"encoding":{"x":{"datum":0.5,"type":"quantitative"},"y":{"field":"de","type":"quantitative"},"color":{"field":"classe","type":"nominal","legend":null}}},
{"data":{"name":"pontas"},"transform":[{"filter":"datum.forma==='baixo'"}],"mark":{"type":"point","filled":true,"opacity":1,"stroke":"black","strokeWidth":1,"size":676,"shape":"M-1,0L0,4.77L1,0Z"},"encoding":{"x":{"datum":0.5,"type":"quantitative"},"y":{"field":"de","type":"quantitative"},"color":{"field":"classe","type":"nominal","legend":null}}}
]}
]}
],"spacing":0}
